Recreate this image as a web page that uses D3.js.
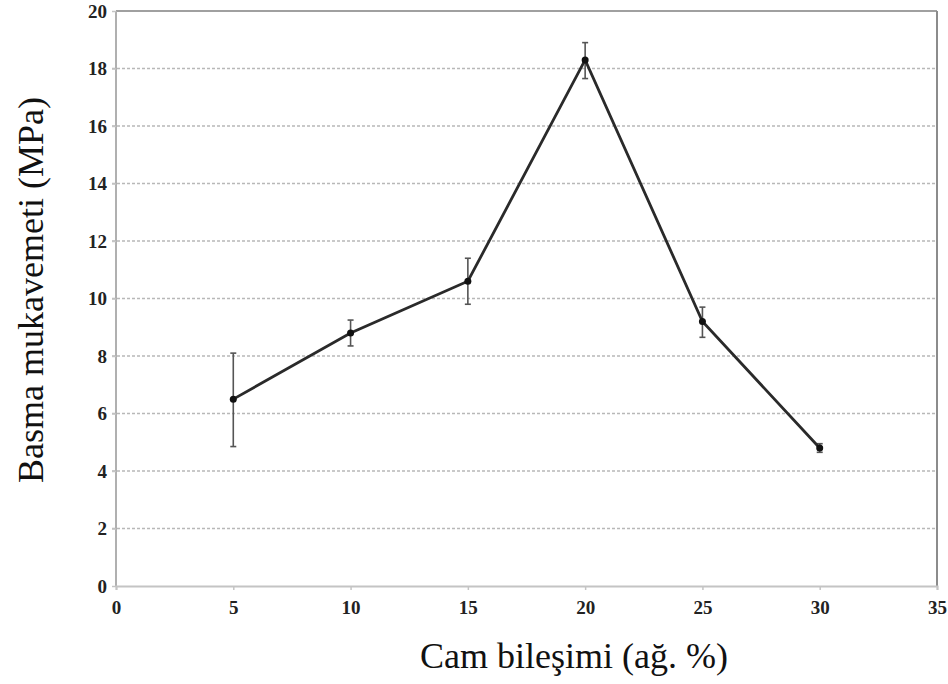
<!DOCTYPE html>
<html>
<head>
<meta charset="utf-8">
<script src="https://cdn.jsdelivr.net/npm/d3@7"></script>
<style>
  body { margin: 0; background: #fff; }
  svg { display: block; }
  text { font-family: 'Liberation Serif', 'Times New Roman', serif; }
</style>
</head>
<body>
<svg id="chart" width="948" height="684"></svg>
<script>
// glass content (wt %) vs compressive strength
const glassPct = [5, 10, 15, 20, 25, 30];
const strength = [6.5, 8.8, 10.6, 18.3, 9.2, 4.8];
const errLow = [4.85, 8.35, 9.8, 17.65, 8.65, 4.65];
const errHigh = [8.1, 9.25, 11.4, 18.9, 9.7, 4.95];
const xTicks = [0, 5, 10, 15, 20, 25, 30, 35];
const yTicks = [0, 2, 4, 6, 8, 10, 12, 14, 16, 18, 20];

const serif = "'Liberation Serif', 'Times New Roman', serif";
const svg = d3.select('#chart');
const plotL = 116, plotR = 937, plotT = 11, plotB = 586;

const x = d3.scaleLinear().domain([0, 35]).range([plotL, plotR]);
const y = d3.scaleLinear().domain([0, 20]).range([plotB, plotT]);

// dashed grid
svg.append('g')
  .selectAll('line')
  .data(yTicks.filter(d => d > 0 && d < 20))
  .join('line')
  .attr('x1', plotL - 4).attr('x2', plotR)
  .attr('y1', d => y(d)).attr('y2', d => y(d))
  .attr('stroke', '#b8b8b8')
  .attr('stroke-width', 1.5)
  .attr('stroke-dasharray', '3,2');

// frame
svg.append('line').attr('x1', plotL).attr('x2', plotR).attr('y1', plotT).attr('y2', plotT)
  .attr('stroke', '#a0a0a0').attr('stroke-width', 2);
svg.append('line').attr('x1', plotL).attr('x2', plotL).attr('y1', plotT).attr('y2', plotB)
  .attr('stroke', '#b0b0b0').attr('stroke-width', 2);
svg.append('line').attr('x1', plotR).attr('x2', plotR).attr('y1', plotT).attr('y2', plotB)
  .attr('stroke', '#8c8c8c').attr('stroke-width', 2);

// x axis
const xAxis = svg.append('g')
  .attr('transform', `translate(0,${plotB})`)
  .call(d3.axisBottom(x).tickValues(xTicks).tickSize(4).tickPadding(11));
xAxis.attr('font-family', serif);
xAxis.select('.domain').attr('stroke', '#c4c4c4').attr('stroke-width', 2);
xAxis.selectAll('.tick line').attr('stroke', '#c4c4c4').attr('stroke-width', 1.5);
xAxis.selectAll('text')
  .attr('font-family', serif)
  .attr('font-weight', 'bold')
  .attr('font-size', 19)
  .attr('fill', '#222');

// y axis
const yAxis = svg.append('g')
  .attr('transform', `translate(${plotL},0)`)
  .call(d3.axisLeft(y).tickValues(yTicks).tickSize(4).tickPadding(5));
yAxis.attr('font-family', serif);
yAxis.select('.domain').remove();
yAxis.selectAll('.tick line').attr('stroke', '#c4c4c4').attr('stroke-width', 1.5);
yAxis.selectAll('text')
  .attr('font-family', serif)
  .attr('font-weight', 'bold')
  .attr('font-size', 19)
  .attr('fill', '#222');

// error bars
const eb = svg.append('g').attr('stroke', '#555').attr('stroke-width', 1.6);
glassPct.forEach((g, i) => {
  eb.append('line').attr('x1', x(g)).attr('x2', x(g))
    .attr('y1', y(errLow[i])).attr('y2', y(errHigh[i]));
  [errLow[i], errHigh[i]].forEach(v => {
    eb.append('line').attr('x1', x(g) - 3).attr('x2', x(g) + 3)
      .attr('y1', y(v)).attr('y2', y(v));
  });
});

// line
const line = d3.line()
  .x((d, i) => x(glassPct[i]))
  .y(d => y(d));
svg.append('path')
  .datum(strength)
  .attr('d', line)
  .attr('fill', 'none')
  .attr('stroke', '#2a2a2a')
  .attr('stroke-width', 2.8);

// markers
svg.append('g')
  .selectAll('circle')
  .data(strength)
  .join('circle')
  .attr('cx', (d, i) => x(glassPct[i]))
  .attr('cy', d => y(d))
  .attr('r', 3.5)
  .attr('fill', '#111');

// titles
svg.append('text')
  .attr('x', 574).attr('y', 668)
  .attr('text-anchor', 'middle')
  .attr('font-family', serif)
  .attr('font-size', 36)
  .attr('fill', '#111')
  .text('Cam bileşimi (ağ. %)');

svg.append('text')
  .attr('transform', 'translate(43,290) rotate(-90)')
  .attr('text-anchor', 'middle')
  .attr('font-family', serif)
  .attr('font-size', 36)
  .attr('fill', '#111')
  .text('Basma mukavemeti (MPa)');
</script>
</body>
</html>
